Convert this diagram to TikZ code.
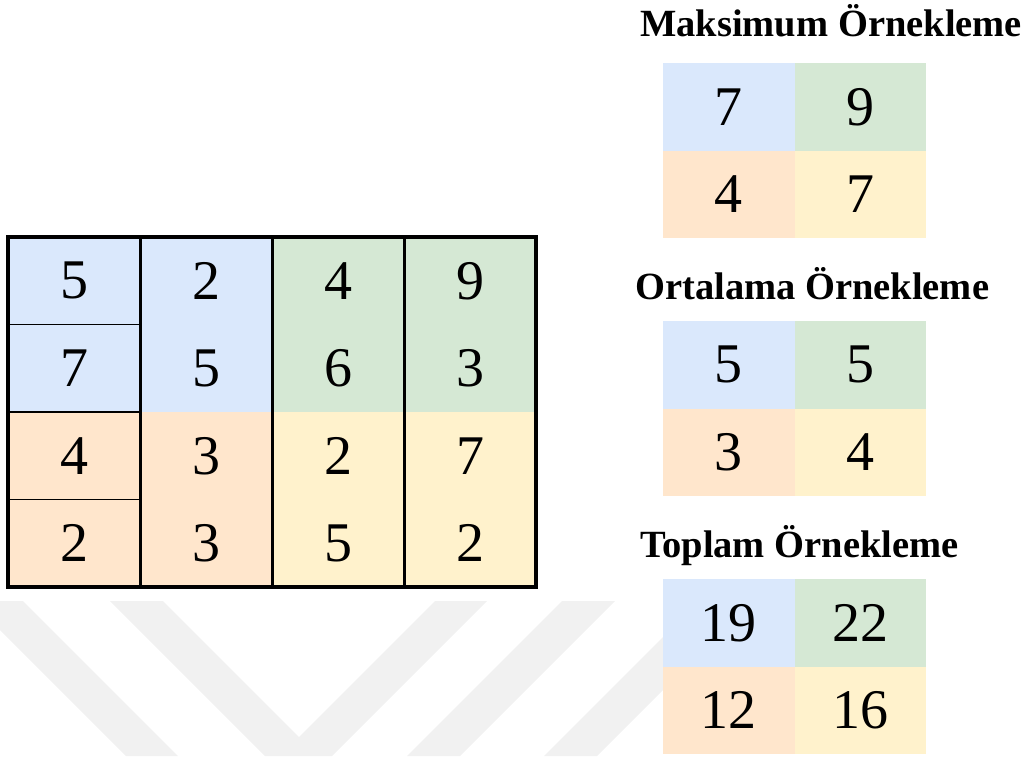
\documentclass[tikz,border=0pt]{standalone}
\usepackage{fontspec}
\setmainfont{Liberation Serif}
\usetikzlibrary{positioning}
\definecolor{poolblue}{RGB}{218,232,252}
\definecolor{poolgreen}{RGB}{213,232,212}
\definecolor{poolorange}{RGB}{255,230,204}
\definecolor{poolyellow}{RGB}{255,242,204}
\definecolor{wmgray}{RGB}{241,241,241}
\tikzset{
  incell/.style={minimum width=132pt, minimum height=87.5pt, inner sep=0pt, outer sep=0pt,
    font=\fontsize{56}{60}\selectfont},
  outcell/.style={incell, minimum width=131.5pt},
  pooltitle/.style={anchor=base west, inner sep=0pt, font=\fontsize{38.5}{44}\selectfont\bfseries},
  frameline/.style={line width=3.4pt},
  colline/.style={line width=3pt},
  rowline/.style={line width=1.8pt},
  wmband/.style={fill=wmgray, draw=none}
}

\begin{document}
\begin{tikzpicture}[x=1pt, y=-1pt]
  \useasboundingbox (0,0) rectangle (1031,756);

  % faint watermark bands
  \fill[wmband] (0,601) -- (23,601) -- (178,756) -- (126,756) -- (0,630) -- cycle;
  \fill[wmband] (110,601) -- (163,601) -- (299,737) -- (435,601) -- (487,601) -- (332,756) -- (265,756) -- cycle;
  \fill[wmband] (562,601) -- (615,601) -- (460,756) -- (407,756) -- cycle;
  \fill[wmband] (699,601) -- (752,601) -- (597,756) -- (544,756) -- cycle;

  % input map
  \node[incell, fill=poolblue] (a11) at (74,280.75) {5};
  \node[incell, fill=poolblue] (a12) at (206,280.75) {2};
  \node[incell, fill=poolgreen] (a13) at (338,280.75) {4};
  \node[incell, fill=poolgreen] (a14) at (470,280.75) {9};
  \node[incell, fill=poolblue] (a21) at (74,368.25) {7};
  \node[incell, fill=poolblue] (a22) at (206,368.25) {5};
  \node[incell, fill=poolgreen] (a23) at (338,368.25) {6};
  \node[incell, fill=poolgreen] (a24) at (470,368.25) {3};
  \node[incell, fill=poolorange] (a31) at (74,455.75) {4};
  \node[incell, fill=poolorange] (a32) at (206,455.75) {3};
  \node[incell, fill=poolyellow] (a33) at (338,455.75) {2};
  \node[incell, fill=poolyellow] (a34) at (470,455.75) {7};
  \node[incell, fill=poolorange] (a41) at (74,543.25) {2};
  \node[incell, fill=poolorange] (a42) at (206,543.25) {3};
  \node[incell, fill=poolyellow] (a43) at (338,543.25) {5};
  \node[incell, fill=poolyellow] (a44) at (470,543.25) {2};

  \draw[rowline] (a11.south west) -- (a11.south east);
  \draw[rowline] (a21.south west) -- (a21.south east);
  \draw[rowline] (a31.south west) -- (a31.south east);
  \draw[colline] (a11.north east) -- (a41.south east);
  \draw[colline] (a12.north east) -- (a42.south east);
  \draw[colline] (a13.north east) -- (a43.south east);
  \draw[frameline] (a11.north west) rectangle (a44.south east);

  % max pooling
  \node[pooltitle] (maxtitle) at (640,36) {Maksimum Örnekleme};
  \node[outcell, fill=poolblue] (m11) at (728.75,106.75) {7};
  \node[outcell, fill=poolgreen] (m12) at (860.25,106.75) {9};
  \node[outcell, fill=poolorange] (m21) at (728.75,194.25) {4};
  \node[outcell, fill=poolyellow] (m22) at (860.25,194.25) {7};

  % average pooling
  \node[pooltitle] (avgtitle) at (635,299) {Ortalama Örnekleme};
  \node[outcell, fill=poolblue] (o11) at (728.75,364.75) {5};
  \node[outcell, fill=poolgreen] (o12) at (860.25,364.75) {5};
  \node[outcell, fill=poolorange] (o21) at (728.75,452.25) {3};
  \node[outcell, fill=poolyellow] (o22) at (860.25,452.25) {4};

  % sum pooling
  \node[pooltitle] (sumtitle) at (640,557) {Toplam Örnekleme};
  \node[outcell, fill=poolblue] (t11) at (728.75,622.75) {19};
  \node[outcell, fill=poolgreen] (t12) at (860.25,622.75) {22};
  \node[outcell, fill=poolorange] (t21) at (728.75,710.25) {12};
  \node[outcell, fill=poolyellow] (t22) at (860.25,710.25) {16};
\end{tikzpicture}
\end{document}
